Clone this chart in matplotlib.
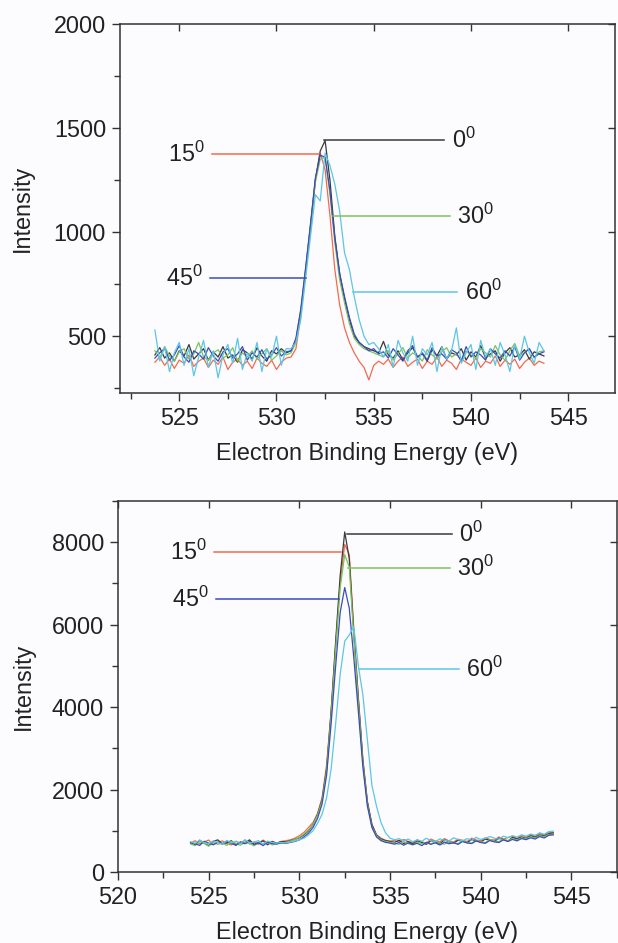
import matplotlib
matplotlib.use("Agg")
import matplotlib.pyplot as plt
from matplotlib.ticker import MultipleLocator

plt.rcParams["font.family"] = ["Liberation Sans", "DejaVu Sans"]
plt.rcParams["mathtext.fontset"] = "custom"
plt.rcParams["mathtext.rm"] = "Liberation Sans"
plt.rcParams["mathtext.it"] = "Liberation Sans:italic"
plt.rcParams["mathtext.bf"] = "Liberation Sans:bold"

ANGLES = ["0", "15", "30", "45", "60"]
COLORS = {"0": "#3a3a3a", "15": "#f26a4e", "30": "#7cc45a", "45": "#3a4cc0", "60": "#5cc6e4"}

# ---- top panel: O 1s, low count spectra ----
TOP_ENERGY = [
    523.75, 524.0, 524.25, 524.5, 524.75, 525.0, 525.25, 525.5, 525.75, 526.0,
    526.25, 526.5, 526.75, 527.0, 527.25, 527.5, 527.75, 528.0, 528.25, 528.5,
    528.75, 529.0, 529.25, 529.5, 529.75, 530.0, 530.25, 530.5, 530.75, 531.0,
    531.25, 531.5, 531.75, 532.0, 532.25, 532.5, 532.75, 533.0, 533.25, 533.5,
    533.75, 534.0, 534.25, 534.5, 534.75, 535.0, 535.25, 535.5, 535.75, 536.0,
    536.25, 536.5, 536.75, 537.0, 537.25, 537.5, 537.75, 538.0, 538.25, 538.5,
    538.75, 539.0, 539.25, 539.5, 539.75, 540.0, 540.25, 540.5, 540.75, 541.0,
    541.25, 541.5, 541.75, 542.0, 542.25, 542.5, 542.75, 543.0, 543.25, 543.5,
    543.75,
]
TOP_0 = [
    410, 445, 395, 420, 380, 430, 405, 460, 390, 415, 440, 385, 425, 400, 450,
    395, 410, 375, 435, 420, 390, 445, 405, 380, 430, 415, 440, 420,
    430, 480, 620, 820, 1030, 1250, 1390, 1440, 1250, 980, 800, 680, 580, 500,
    470, 450, 440, 430, 420,
    475, 410, 395, 430, 385, 420, 445, 400, 415, 380, 435, 405, 450, 390, 420,
    410, 440, 385, 425, 400, 455, 395, 415, 430, 380, 420, 445, 400, 410, 435,
    390, 425, 415, 405,
]
TOP_15 = [
    375, 400, 360, 390, 345, 385, 370, 410, 355, 380, 395, 350, 385, 365, 400,
    340, 375, 390, 360, 380, 345, 395, 370, 355, 385, 340, 375, 395,
    400, 440, 600, 800, 1020, 1250, 1380, 1300, 1080, 820, 650, 540, 470, 420,
    380, 350, 290, 360, 380,
    365, 390, 350, 380, 400, 355, 375, 390, 345, 380, 365, 400, 355, 385, 370,
    340, 390, 375, 360, 395, 350, 380, 370, 405, 355, 385, 365, 390, 345, 375,
    395, 360, 380, 370,
]
TOP_30 = [
    430, 395, 450, 405, 380, 425, 440, 390, 415, 470, 400, 385, 420, 435, 395,
    410, 445, 380, 420, 400, 430, 390, 415, 440, 385, 405, 430, 410,
    420, 470, 610, 810, 1030, 1240, 1350, 1360, 1180, 950, 770, 660, 560, 490,
    460, 440, 430, 420, 410,
    400, 430, 385, 415, 445, 395, 420, 405, 380, 435, 410, 390, 425, 445, 400,
    415, 385, 430, 410, 395, 440, 420, 400, 455, 410, 385, 430, 465, 405, 420,
    440, 395, 425, 430,
]
TOP_45 = [
    395, 420, 440, 385, 410, 455, 400, 375, 430, 415, 390, 445, 405, 380, 425,
    440, 395, 415, 450, 385, 420, 400, 435, 390, 410, 445, 405, 425,
    430, 490, 630, 830, 1040, 1260, 1370, 1360, 1200, 970, 800, 690, 590, 510,
    470, 450, 430, 440, 415,
    425, 395, 440, 410, 380, 430, 455, 400, 420, 385, 445, 405, 415, 390, 435,
    420, 380, 450, 400, 425, 410, 385, 440, 415, 395, 430, 405, 450, 385, 420,
    440, 400, 415, 425,
]
TOP_60 = [
    530, 380, 450, 330, 420, 470, 360, 440, 310, 400, 480, 350, 430, 300, 410,
    460, 370, 490, 340, 420, 380, 470, 330, 440, 400, 500, 360, 440,
    440, 470, 580, 780, 980, 1180, 1150, 1380, 1320, 1230, 1100, 900, 820, 690,
    580, 500, 460, 470, 440,
    400, 460, 350, 480, 420, 380, 500, 360, 440, 410, 470, 330, 450, 390, 430,
    540, 370, 420, 460, 340, 480, 400, 440, 360, 470, 410, 330, 460, 390, 500,
    420, 370, 470, 430,
]

# ---- bottom panel: higher count spectra ----
BOT_ENERGY = [
    524.0, 524.25, 524.5, 524.75, 525.0, 525.25, 525.5, 525.75, 526.0, 526.25,
    526.5, 526.75, 527.0, 527.25, 527.5, 527.75, 528.0, 528.25, 528.5, 528.75,
    529.0, 529.25, 529.5, 529.75, 530.0, 530.25, 530.5, 530.75, 531.0, 531.25,
    531.5, 531.75, 532.0, 532.25, 532.5, 532.75, 533.0, 533.25, 533.5, 533.75,
    534.0, 534.25, 534.5, 534.75, 535.0, 535.25, 535.5, 535.75, 536.0, 536.25,
    536.5, 536.75, 537.0, 537.25, 537.5, 537.75, 538.0, 538.25, 538.5, 538.75,
    539.0, 539.25, 539.5, 539.75, 540.0, 540.25, 540.5, 540.75, 541.0, 541.25,
    541.5, 541.75, 542.0, 542.25, 542.5, 542.75, 543.0, 543.25, 543.5, 543.75,
    544.0,
]
BOT_0 = [
    720, 660, 770, 700, 640, 740, 780, 680, 710, 760, 650, 730, 700, 780, 670,
    720, 755, 660, 735, 700,
    740, 730, 760, 790, 830, 900, 1000, 1150, 1400, 1750, 2500, 3900, 5600,
    7200, 8250, 7600, 5800, 4200, 2700, 1700, 1150, 900, 800, 760, 740,
    720, 770, 690, 740, 680, 755, 715, 670, 760, 725, 690, 780, 730, 700, 770,
    745, 710, 790, 755, 725, 800, 770, 740, 820, 785, 750, 840, 800, 850, 815,
    880, 845, 900, 875, 930, 950,
]
BOT_15 = [
    700, 760, 680, 730, 775, 665, 715, 755, 690, 655, 745, 700, 765, 680, 725,
    670, 775, 705, 745, 695,
    740, 760, 780, 820, 880, 960, 1080, 1200, 1420, 1800, 2600, 3900, 5500,
    7000, 7950, 7700, 5900, 4250, 2750, 1700, 1150, 900, 820, 770, 750,
    765, 725, 790, 740, 710, 780, 730, 700, 800, 750, 735, 810, 755, 725, 795,
    770, 740, 820, 775, 760, 830, 790, 775, 850, 800, 835, 870, 810, 890, 845,
    910, 865, 940, 895, 970, 940,
]
BOT_30 = [
    680, 640, 735, 690, 625, 715, 670, 705, 645, 745, 685, 650, 725, 690, 635,
    710, 675, 730, 655, 695,
    700, 720, 750, 790, 840, 920, 1020, 1150, 1380, 1720, 2450, 3800, 5400,
    6900, 7700, 7400, 5700, 4100, 2650, 1650, 1100, 880, 780, 740, 720,
    700, 670, 740, 690, 655, 725, 685, 715, 665, 750, 700, 675, 735, 705, 690,
    760, 715, 700, 770, 730, 715, 785, 745, 735, 800, 760, 810, 775, 830, 805,
    855, 825, 880, 855, 910, 915,
]
BOT_45 = [
    710, 685, 645, 745, 700, 660, 725, 680, 755, 690, 650, 720, 685, 740, 665,
    705, 640, 725, 690, 675,
    710, 690, 720, 740, 780, 850, 940, 1080, 1300, 1650, 2350, 3600, 5000,
    6300, 6900, 6400, 5200, 3900, 2550, 1600, 1080, 850, 760, 720, 700,
    675, 715, 650, 705, 665, 695, 640, 720, 675, 705, 655, 725, 685, 710, 670,
    740, 705, 690, 755, 715, 695, 765, 730, 715, 780, 740, 790, 755, 810, 785,
    830, 800, 860, 825, 890, 900,
]
BOT_60 = [
    735, 695, 775, 710, 680, 755, 720, 670, 765, 705, 745, 690, 785, 700, 730,
    760, 680, 750, 715, 700,
    720, 700, 730, 750, 780, 820, 900, 1000, 1180, 1400, 1800, 2500, 3600,
    4800, 5600, 5750, 5950, 5000, 4300, 3200, 2100, 1600, 1200, 950, 820, 780,
    810, 755, 800, 735, 780, 745, 820, 760, 735, 805, 770, 750, 830, 785, 755,
    810, 770, 840, 790, 815, 860, 820, 795, 870, 835, 880, 850, 900, 870, 920,
    890, 950, 915, 980, 990,
]

TOP_SERIES = {"15": TOP_15, "0": TOP_0, "30": TOP_30, "45": TOP_45, "60": TOP_60}
BOT_SERIES = {"15": BOT_15, "0": BOT_0, "30": BOT_30, "45": BOT_45, "60": BOT_60}

# label leader lines: (x_start, x_end, y, text side)
TOP_LABELS = {
    "0": (532.46, 538.6, 1442, "right"),
    "15": (526.7, 532.2, 1375, "left"),
    "30": (532.9, 538.9, 1077, "right"),
    "45": (526.6, 531.5, 779, "left"),
    "60": (533.95, 539.3, 712, "right"),
}
BOT_LABELS = {
    "0": (532.6, 538.4, 8194, "right"),
    "15": (525.3, 532.3, 7758, "left"),
    "30": (532.7, 538.3, 7370, "right"),
    "45": (525.4, 532.2, 6618, "left"),
    "60": (533.3, 538.8, 4921, "right"),
}

TEXT_COLOR = "#222222"
SPINE_COLOR = "#333333"
FS = 16.8


def style_axes(ax, xlim, ylim, xmajor, ymajor, yminor, xticks):
    ax.set_xlim(*xlim)
    ax.set_ylim(*ylim)
    ax.set_xticks(xticks)
    ax.xaxis.set_minor_locator(MultipleLocator(xmajor / 2))
    ax.yaxis.set_major_locator(MultipleLocator(ymajor))
    ax.yaxis.set_minor_locator(MultipleLocator(yminor))
    for sp in ax.spines.values():
        sp.set_color(SPINE_COLOR)
        sp.set_linewidth(1.1)
    ax.tick_params(which="both", direction="out", colors=SPINE_COLOR,
                   labelcolor=TEXT_COLOR, labelsize=FS, width=1.0)
    ax.tick_params(which="major", length=6, pad=4)
    ax.tick_params(which="minor", length=4)
    # inward ticks on the top and right sides
    top = ax.secondary_xaxis("top")
    top.set_xticks(xticks)
    top.tick_params(direction="in", length=5, width=1.0, colors=SPINE_COLOR,
                    labeltop=False)
    top.spines["top"].set_visible(False)
    right = ax.secondary_yaxis("right")
    right.yaxis.set_major_locator(MultipleLocator(ymajor))
    right.tick_params(direction="in", length=5, width=1.0, colors=SPINE_COLOR,
                      labelright=False)
    right.spines["right"].set_visible(False)


def draw_labels(ax, labels, dx):
    for ang, (x0, x1, y, side) in labels.items():
        ax.plot([x0, x1], [y, y], color=COLORS[ang], lw=1.1, zorder=4)
        txt = r"$\mathregular{%s^{0}}$" % ang
        if side == "left":
            ax.text(x0 - dx, y, txt, ha="right", va="center", fontsize=FS,
                    color=TEXT_COLOR)
        else:
            ax.text(x1 + dx, y, txt, ha="left", va="center", fontsize=FS,
                    color=TEXT_COLOR)


fig = plt.figure(figsize=(6.18, 9.43), dpi=100)
fig.patch.set_facecolor("#fcfcfe")

ax1 = fig.add_axes([0.194, 0.583, 0.801, 0.3915])
ax2 = fig.add_axes([0.191, 0.0753, 0.807, 0.3934])
for ax in (ax1, ax2):
    ax.set_facecolor("#fcfcfe")

for ang, ys in TOP_SERIES.items():
    ax1.plot(TOP_ENERGY, ys, color=COLORS[ang], lw=0.9)
for ang, ys in BOT_SERIES.items():
    ax2.plot(BOT_ENERGY, ys, color=COLORS[ang], lw=0.9)

style_axes(ax1, (521.95, 547.4), (226, 2000), 5, 500, 250,
           [525, 530, 535, 540, 545])
style_axes(ax2, (520, 547.5), (0, 9000), 5, 2000, 1000,
           [520, 525, 530, 535, 540, 545])

draw_labels(ax1, TOP_LABELS, 0.4)
draw_labels(ax2, BOT_LABELS, 0.4)

for ax, lx in ((ax1, -0.198), (ax2, -0.189)):
    ax.set_ylabel("Intensity", fontsize=FS, color=TEXT_COLOR, va="center")
    ax.yaxis.set_label_coords(lx, 0.5)
    ax.set_xlabel("Electron Binding Energy (eV)", fontsize=FS,
                  color=TEXT_COLOR, va="center")
    ax.xaxis.set_label_coords(0.5, -0.163)

fig.savefig("out.png", dpi=100, facecolor=fig.get_facecolor())
